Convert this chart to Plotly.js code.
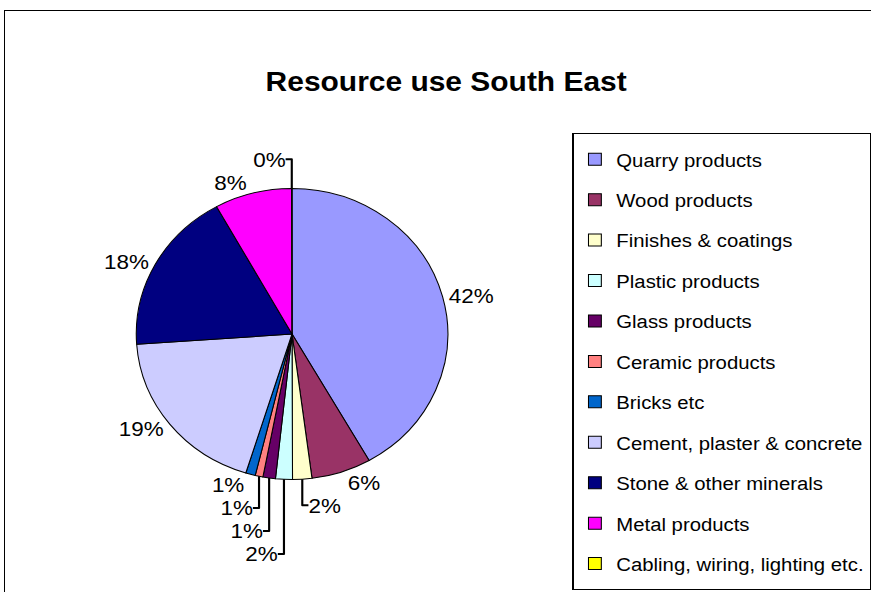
<!DOCTYPE html>
<html>
<head>
<meta charset="utf-8">
<script src="https://cdn.plot.ly/plotly-3.0.1.min.js"></script>
<style>
  html, body { margin: 0; padding: 0; background: #ffffff; overflow: hidden; }
  #frame { position: absolute; left: 4px; top: 10px; width: 1000px; height: 1000px;
           border-left: 1px solid #000; border-top: 1px solid #000; box-sizing: border-box; }
  #chart { position: absolute; left: 0; top: 0; width: 814px; height: 592px;
           transform: scaleX(1.07); transform-origin: 0 0; }
</style>
</head>
<body>
<div id="frame"></div>
<div id="chart"></div>
<script>
// Categories (legend order, clockwise from 12 o'clock)
const categories = [
  "Quarry products",
  "Wood products",
  "Finishes & coatings",
  "Plastic products",
  "Glass products",
  "Ceramic products",
  "Bricks etc",
  "Cement, plaster & concrete",
  "Stone & other minerals",
  "Metal products",
  "Cabling, wiring, lighting etc."
];
// Share of resource use (%)
const shares = [41.8, 6.2, 2.0, 1.75, 1.3, 0.8, 1.0, 19.1, 18.1, 8.0, 0.05];
const sliceColors = [
  "#9999FF", "#993366", "#FFFFCC", "#CCFFFF", "#660066",
  "#FF8080", "#0066CC", "#CCCCFF", "#000080", "#FF00FF", "#FFFF00"
];

const FONT = "Arial, 'Liberation Sans', Helvetica, sans-serif";
const legendLabels = categories.map(c =>
  '<span style="font-size:19px;baseline-shift:4px">' + c + '</span>');

const trace = {
  type: "pie",
  labels: legendLabels,
  values: shares,
  sort: false,
  direction: "clockwise",
  rotation: 0,
  marker: { colors: sliceColors, line: { color: "#000000", width: 1 } },
  texttemplate: "%{percent:.0%}",
  textposition: "outside",
  textfont: { family: FONT, size: 21, color: "#000000" },
  outsidetextfont: { family: FONT, size: 21, color: "#000000" },
  hoverinfo: "label+percent",
  domain: { x: [0.1588, 0.5218], y: [0.1863, 0.6853] },
  automargin: false
};

const layout = {
  width: 814,
  height: 592,
  margin: { l: 0, r: 0, t: 0, b: 0 },
  paper_bgcolor: "rgba(0,0,0,0)",
  plot_bgcolor: "rgba(0,0,0,0)",
  font: { family: FONT, color: "#000000" },
  title: {
    text: "<b>Resource use South East</b>",
    font: { family: FONT, size: 28, color: "#000000" },
    x: 417 / 814, xanchor: "center", xref: "container",
    y: 1 - 81 / 592, yanchor: "middle", yref: "container"
  },
  showlegend: true,
  legend: {
    x: 543 / 814, xanchor: "left",
    y: 1 - 133 / 592, yanchor: "top",
    bgcolor: "#ffffff",
    bordercolor: "#000000",
    borderwidth: 1,
    font: { family: FONT, size: 28.8, color: "#000000" },
    traceorder: "normal"
  }
};

Plotly.newPlot("chart", [trace], layout, { displayModeBar: false, staticPlot: true });
</script>
</body>
</html>
